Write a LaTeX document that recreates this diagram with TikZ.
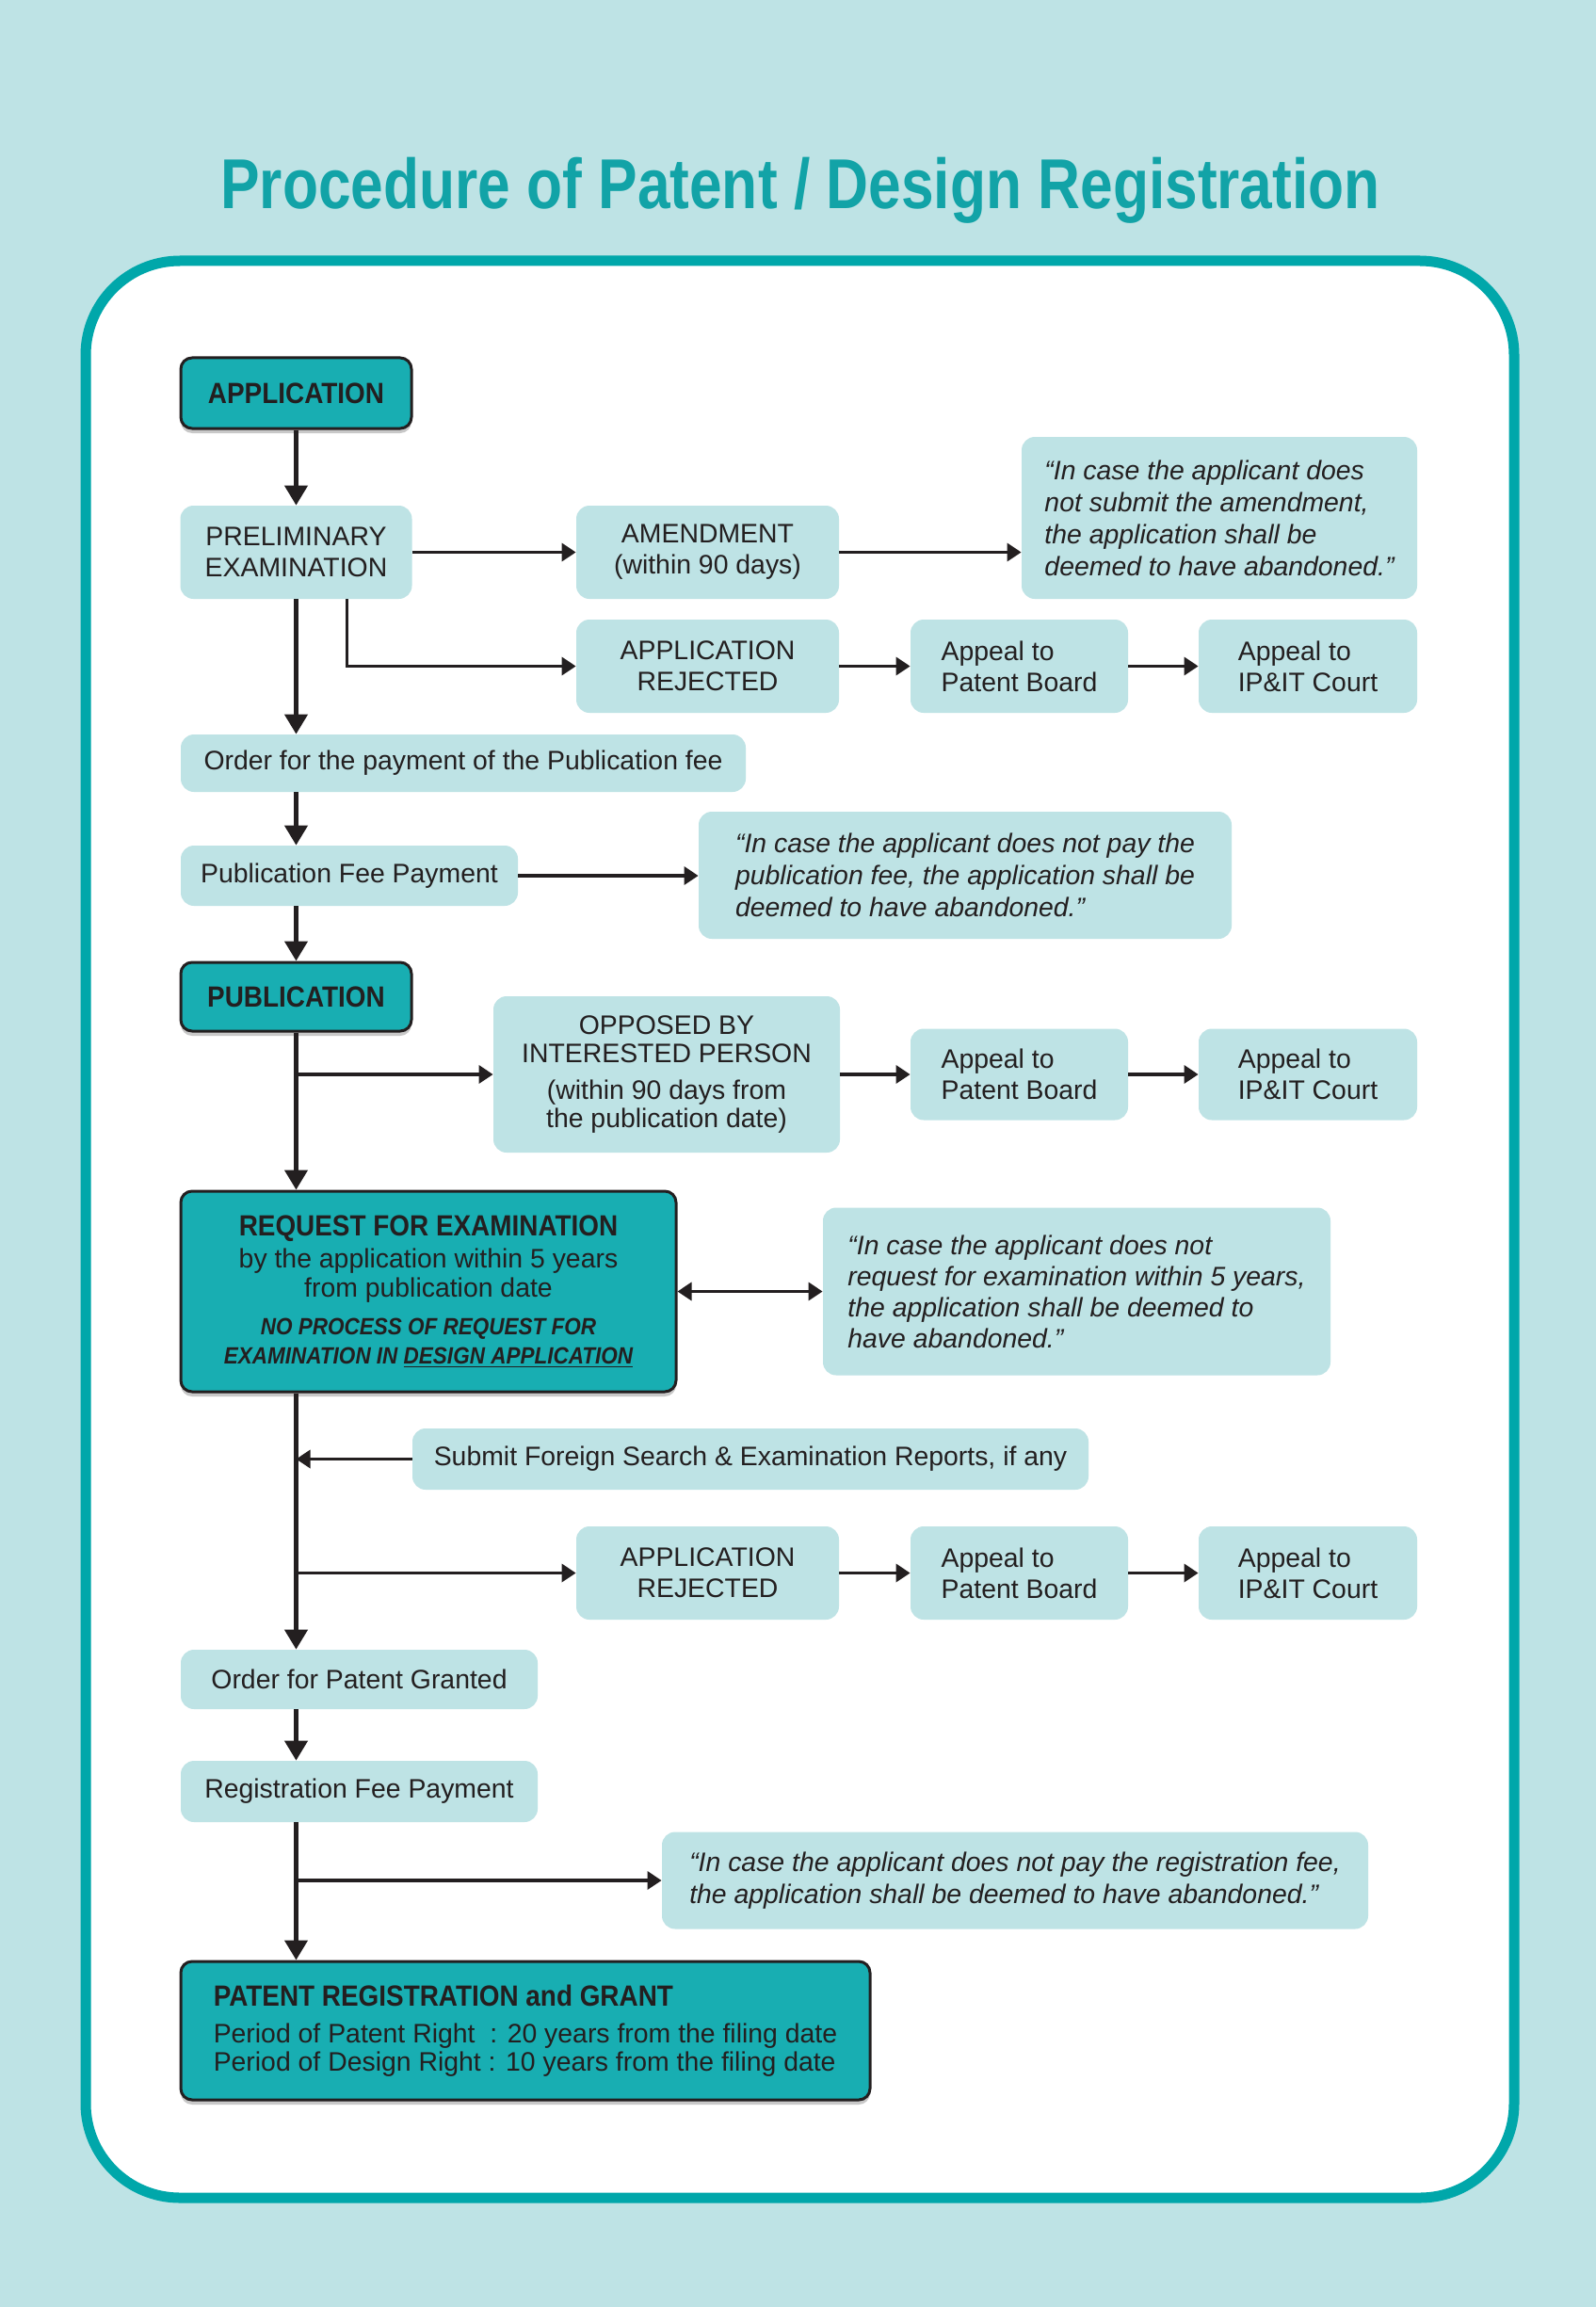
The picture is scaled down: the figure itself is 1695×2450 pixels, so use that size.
\documentclass[tikz,border=0pt]{standalone}
\usepackage{fontspec}
\setmainfont{Liberation Sans}
\newfontfamily\condfont[FakeStretch=0.9]{Liberation Sans}
\newfontfamily\titlefont[FakeStretch=0.83]{Liberation Sans}
\usetikzlibrary{arrows.meta,shadows,calc}
\definecolor{bgc}{HTML}{BEE3E5}
\definecolor{lightbox}{HTML}{BEE3E5}
\definecolor{tealbox}{HTML}{18AEB2}
\definecolor{framec}{HTML}{00A7AA}
\definecolor{titlec}{HTML}{12A3A7}
\definecolor{ink}{HTML}{231F20}
\newcommand{\xbt}{\condfont\bfseries\fontsize{15.5pt}{18pt}\selectfont}
\newcommand{\xbi}{\condfont\bfseries\itshape\fontsize{12.5pt}{15pt}\selectfont}
\begin{document}
\begin{tikzpicture}[x=0.5pt,y=-0.5pt,
  font=\fontsize{14.2pt}{16.5pt}\selectfont,
  lbox/.style={fill=lightbox, rounded corners=7pt, inner sep=0pt, text=ink, align=center},
  dbox/.style={fill=tealbox, draw=ink, line width=1.5pt, rounded corners=6pt, inner sep=0pt, text=ink, align=center,
     drop shadow={shadow xshift=0pt, shadow yshift=-2.5pt, opacity=0.3, fill=black!70}},
  qbox/.style={lbox, align=left, font=\fontsize{14.2pt}{17pt}\selectfont\itshape},
  conn/.style={draw=ink, line width=1.7pt, -{Triangle[length=7.5pt,width=9.5pt]}},
  vconn/.style={draw=ink, line width=2.2pt, -{Triangle[length=10.5pt,width=12pt]}},
  dconn/.style={draw=ink, line width=1.7pt, {Triangle[length=7.5pt,width=9.5pt]}-{Triangle[length=7.5pt,width=9.5pt]}},
]
\useasboundingbox (0,0) rectangle (1695,2450);
\fill[bgc] (0,0) rectangle (1695,2450);

% title
\node[font=\titlefont\bfseries\fontsize{37.5pt}{40pt}\selectfont, text=titlec, anchor=base, inner sep=0pt] (title) at (850,222) {Procedure of Patent / Design Registration};

% frame
\draw[framec, line width=5.5pt, fill=white, rounded corners=50pt] (91,277) rectangle (1608,2334);

% nodes
\node[dbox, minimum width=122.5pt, minimum height=37.5pt, font=\xbt] (app) at (314.5,417.5) {APPLICATION};
\node[lbox, minimum width=123pt, minimum height=49.5pt] (prelim) at (314.5,586.5) {PRELIMINARY\\EXAMINATION};
\node[lbox, minimum width=139.5pt, minimum height=49.5pt] (amend) at (751.5,586.5) {AMENDMENT\\(within 90 days)};
\node[qbox, minimum width=210pt, minimum height=86pt] (q1) at (1295,550) {“In case the applicant does\\not submit the amendment,\\the application shall be\\deemed to have abandoned.”};
\node[lbox, minimum width=139.5pt, minimum height=49.5pt] (rej1) at (751.5,707.5) {APPLICATION\\REJECTED};
\node[lbox, align=left, minimum width=115.5pt, minimum height=49.5pt] (pb1) at (1082.5,707.5) {Appeal to\\Patent Board};
\node[lbox, align=left, minimum width=116pt, minimum height=49.5pt] (ip1) at (1389,707.5) {Appeal to\\IP\&IT Court};

\node[lbox, minimum width=300pt, minimum height=30.5pt] (order) at (492,810.5) {Order for the payment of the Publication fee};
\node[lbox, minimum width=179pt, minimum height=32pt] (pubfee) at (371,930) {Publication Fee Payment};
\node[qbox, minimum width=283pt, minimum height=67.5pt] (q2) at (1025,929.5) {“In case the applicant does not pay the\\publication fee, the application shall be\\deemed to have abandoned.”};

\node[dbox, minimum width=122.5pt, minimum height=36.5pt, font=\xbt] (pub) at (314.5,1058.5) {PUBLICATION};
\node[lbox, minimum width=184pt, minimum height=83pt, font=\fontsize{14.2pt}{15pt}\selectfont] (opp) at (708,1141) {OPPOSED BY\\INTERESTED PERSON\\[4.5pt](within 90 days from\\the publication date)};
\node[lbox, align=left, minimum width=115.5pt, minimum height=48.5pt] (pb2) at (1082.5,1141) {Appeal to\\Patent Board};
\node[lbox, align=left, minimum width=116pt, minimum height=48.5pt] (ip2) at (1389,1141) {Appeal to\\IP\&IT Court};

\node[dbox, minimum width=263pt, minimum height=106.5pt, font=\fontsize{14.2pt}{15.2pt}\selectfont] (req) at (455,1371.5) {{\xbt REQUEST FOR EXAMINATION}\\[2pt]by the application within 5 years\\from publication date\\[5pt]{\xbi NO PROCESS OF REQUEST FOR}\\{\xbi EXAMINATION IN \underline{DESIGN APPLICATION}}};
\node[qbox, minimum width=269.5pt, minimum height=89pt, font=\fontsize{14.2pt}{16.5pt}\selectfont\itshape] (q3) at (1143.5,1371.5) {“In case the applicant does not\\request for examination within 5 years,\\the application shall be deemed to\\have abandoned.”};

\node[lbox, minimum width=359pt, minimum height=32.5pt] (submit) at (797,1549.5) {Submit Foreign Search \& Examination Reports, if any};

\node[lbox, minimum width=139.5pt, minimum height=49.5pt] (rej3) at (751.5,1670.5) {APPLICATION\\REJECTED};
\node[lbox, align=left, minimum width=115.5pt, minimum height=49.5pt] (pb3) at (1082.5,1670.5) {Appeal to\\Patent Board};
\node[lbox, align=left, minimum width=116pt, minimum height=49.5pt] (ip3) at (1389,1670.5) {Appeal to\\IP\&IT Court};

\node[lbox, minimum width=189.5pt, minimum height=31.5pt] (granted) at (381.5,1783.5) {Order for Patent Granted};
\node[lbox, minimum width=189.5pt, minimum height=32.5pt] (regfee) at (381.5,1902.5) {Registration Fee Payment};
\node[qbox, minimum width=375pt, minimum height=51.5pt] (q4) at (1078,1997) {“In case the applicant does not pay the registration fee,\\the application shall be deemed to have abandoned.”};

\node[dbox, align=left, minimum width=366pt, minimum height=73.5pt, font=\fontsize{14.2pt}{15pt}\selectfont] (patent) at (558,2156.5) {{\xbt PATENT REGISTRATION and GRANT}\\[4.5pt]Period of Patent Right\ \ : 20 years from the filing date\\Period of Design Right : 10 years from the filing date};

% connectors
\draw[vconn] (app.south) -- (app.south |- prelim.north);
\draw[conn] (prelim.east) -- (amend.west);
\draw[conn] (amend.east) -- (amend.east -| q1.west);
\draw[conn] ([xshift=27pt]prelim.south) |- (rej1.west);
\draw[conn] (rej1) -- (pb1);
\draw[conn] (pb1) -- (ip1);
\draw[vconn] (prelim.south) -- (prelim.south |- order.north);
\draw[vconn] (prelim.south |- order.south) -- (prelim.south |- pubfee.north);
\draw[conn] (pubfee.east) -- (pubfee.east -| q2.west);
\draw[vconn] (pub.north |- pubfee.south) -- (pub.north);
\draw[vconn] (pub.south) -- (pub.south |- req.north);
\coordinate (b1) at (pub.south |- opp.west);
\draw[conn] (b1) -- (opp.west);
\draw[conn] (opp.east) -- (opp.east -| pb2.west);
\draw[conn] (pb2) -- (ip2);
\draw[dconn] (req.east) -- (req.east -| q3.west);
\draw[vconn] (pub.south |- req.south) -- (pub.south |- granted.north);
\coordinate (b2) at (pub.south |- submit.west);
\draw[conn] (submit.west) -- (b2);
\coordinate (b3) at (pub.south |- rej3.west);
\draw[conn] (b3) -- (rej3.west);
\draw[conn] (rej3) -- (pb3);
\draw[conn] (pb3) -- (ip3);
\draw[vconn] (pub.south |- granted.south) -- (pub.south |- regfee.north);
\draw[vconn] (pub.south |- regfee.south) -- (pub.south |- patent.north);
\coordinate (b4) at (pub.south |- q4.west);
\draw[conn] (b4) -- (q4.west);
\end{tikzpicture}
\end{document}
